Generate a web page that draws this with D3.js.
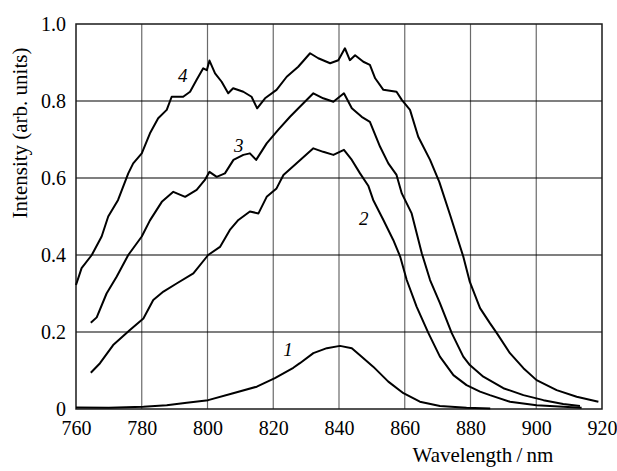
<!DOCTYPE html>
<html>
<head>
<meta charset="utf-8">
<script src="https://cdn.jsdelivr.net/npm/d3@7"></script>
<style>
  body { margin: 0; background: #fff; }
  text { font-family: "Liberation Serif", "Times New Roman", serif; fill: #000; }
</style>
</head>
<body>
<script>
// Emission spectra, curves 1-4
// ---------------------------------------------
var xTicks = [760, 780, 800, 820, 840, 860, 880, 900, 920];
var yTicks = [0, 0.2, 0.4, 0.6, 0.8, 1.0];
var yTickLabels = ['0', '0.2', '0.4', '0.6', '0.8', '1.0'];

var curve1Wl = [760, 770, 780.5, 787.6, 793.7, 800.2, 807.8, 815, 820.5, 826.1, 828.1, 832.2, 836.3,
  840.3, 843.9, 846.9, 850.4, 855, 859.6, 864.6, 870.7, 878.8, 886];
var curve1I = [0.004, 0.003, 0.006, 0.01, 0.016, 0.023, 0.041, 0.058, 0.08, 0.107, 0.119, 0.145, 0.158,
  0.164, 0.158, 0.136, 0.11, 0.071, 0.041, 0.019, 0.008, 0.003, 0.001];

var curve2Wl = [764.5, 767.3, 771.3, 776.4, 780.5, 783.5, 786.6, 790.6, 795.7, 800.2, 803.8, 806.8,
  809.4, 812.9, 815.5, 818, 821, 823.1, 827.1, 832.2, 835.2, 838.3, 841.5, 843.9, 846.4, 848.9,
  850.4, 853.5, 856.5, 858.6, 860.6, 863.6, 867.2, 870.7, 874.8, 878.8, 882.9, 885.9, 892, 900.1,
  908.2, 913.8];
var curve2I = [0.094, 0.119, 0.166, 0.205, 0.235, 0.283, 0.305, 0.326, 0.352, 0.40, 0.421, 0.465,
  0.491, 0.513, 0.508, 0.551, 0.573, 0.608, 0.638, 0.677, 0.668, 0.66, 0.673, 0.647, 0.612, 0.58,
  0.543, 0.491, 0.439, 0.396, 0.335, 0.266, 0.197, 0.136, 0.088, 0.062, 0.045, 0.036, 0.019, 0.010,
  0.006, 0.003];

var curve3Wl = [764.5, 766.3, 769.3, 772.4, 775.9, 780, 782.5, 786.1, 789.6, 793.2, 796.7, 799.2,
  800.6, 802.8, 805.3, 807.9, 810.9, 812.9, 814.8, 818, 821.5, 825.1, 828.1, 832.2, 835.2, 838.3,
  841.5, 843.9, 846.9, 849.4, 852.5, 855, 857.5, 859.1, 862.1, 865.2, 867.7, 870.7, 874.3, 877.8,
  879.8, 883.9, 890, 896.1, 902.2, 908.2, 913.3];
var curve3I = [0.224, 0.238, 0.30, 0.344, 0.40, 0.448, 0.49, 0.538, 0.564, 0.551, 0.569, 0.595,
  0.616, 0.603, 0.612, 0.647, 0.66, 0.664, 0.647, 0.69, 0.725, 0.759, 0.785, 0.82, 0.807, 0.798,
  0.82, 0.781, 0.759, 0.746, 0.681, 0.638, 0.608, 0.56, 0.508, 0.404, 0.335, 0.275, 0.197, 0.136,
  0.114, 0.084, 0.054, 0.036, 0.023, 0.013, 0.008];

var curve4Wl = [760, 761.7, 764.8, 767.8, 769.8, 772.8, 775.9, 777.4, 780, 782.5, 785, 787.6, 789.1,
  792.6, 794.7, 796.7, 798.7, 799.8, 800.6, 802.3, 804.3, 806.3, 807.8, 810.9, 813.4, 815.1, 817.5,
  821, 824.1, 827.6, 831.2, 833.7, 837.3, 839.8, 841.8, 843.3, 844.9, 847.4, 849.4, 851, 853.5,
  857.5, 859.1, 861.6, 864.1, 867.7, 870.5, 873.8, 877.8, 879.8, 882.9, 885.9, 888, 892, 896.1,
  900.1, 906.2, 912.3, 918.9];
var curve4I = [0.322, 0.366, 0.40, 0.448, 0.50, 0.543, 0.612, 0.638, 0.664, 0.716, 0.755, 0.777, 0.811,
  0.811, 0.824, 0.855, 0.885, 0.88, 0.905, 0.872, 0.85, 0.82, 0.833, 0.824, 0.811, 0.781, 0.807,
  0.829, 0.863, 0.889, 0.924, 0.911, 0.898, 0.906, 0.937, 0.906, 0.919, 0.902, 0.894, 0.859, 0.829,
  0.824, 0.803, 0.777, 0.707, 0.647, 0.59, 0.504, 0.396, 0.33, 0.262, 0.223, 0.197, 0.145, 0.106,
  0.075, 0.049, 0.032, 0.019];

var curveNames = ['1', '2', '3', '4'];
// label anchor points (wavelength, intensity)
var labelWl = [824.5, 847.5, 809.5, 792.5];
var labelI = [0.155, 0.495, 0.685, 0.865];

// Width and height
var w = 617;
var h = 471;
var margin = { top: 24, right: 15, bottom: 62, left: 76 };

var svg = d3.select('body').append('svg').attr('width', w).attr('height', h);

var x = d3.scaleLinear().domain([760, 920]).range([margin.left, w - margin.right]);
var y = d3.scaleLinear().domain([0, 1]).range([h - margin.bottom, margin.top]);

// vertical grid (grey)
svg.append('g')
  .selectAll('line').data(xTicks.slice(1, -1)).enter()
  .append('line')
  .attr('x1', function(d) { return x(d); })
  .attr('x2', function(d) { return x(d); })
  .attr('y1', y(0))
  .attr('y2', y(1))
  .attr('stroke', '#6a6a6a')
  .attr('stroke-width', 1.2);

// horizontal grid (black)
svg.append('g')
  .selectAll('line').data(yTicks.slice(1, -1)).enter()
  .append('line')
  .attr('x1', x(760))
  .attr('x2', x(920))
  .attr('y1', function(d) { return y(d); })
  .attr('y2', function(d) { return y(d); })
  .attr('stroke', '#000')
  .attr('stroke-width', 1.2);

// frame
svg.append('rect')
  .attr('x', x(760))
  .attr('y', y(1))
  .attr('width', x(920) - x(760))
  .attr('height', y(0) - y(1))
  .attr('fill', 'none')
  .attr('stroke', '#1a1a1a')
  .attr('stroke-width', 1.5);

// axes: labels only, the frame draws the lines
var xAxis = d3.axisBottom(x).tickValues(xTicks).tickSize(0).tickPadding(12);
var yAxis = d3.axisLeft(y).tickValues(yTicks).tickSize(0).tickPadding(10)
  .tickFormat(function(d, i) { return yTickLabels[i]; });

var gx = svg.append('g').attr('transform', 'translate(0,' + y(0) + ')').call(xAxis);
var gy = svg.append('g').attr('transform', 'translate(' + x(760) + ',0)').call(yAxis);
[gx, gy].forEach(function(g) {
  g.select('.domain').remove();
  g.selectAll('text').attr('font-family', '"Liberation Serif", serif').attr('font-size', '20px').attr('fill', '#000');
});

// curves
var line = d3.line()
  .x(function(d) { return x(d[0]); })
  .y(function(d) { return y(d[1]); });

var curves = [
  d3.zip(curve1Wl, curve1I),
  d3.zip(curve2Wl, curve2I),
  d3.zip(curve3Wl, curve3I),
  d3.zip(curve4Wl, curve4I)
];

svg.append('g')
  .selectAll('path').data(curves).enter()
  .append('path')
  .attr('d', line)
  .attr('fill', 'none')
  .attr('stroke', '#000')
  .attr('stroke-width', 2)
  .attr('stroke-linejoin', 'round');

// curve numbers
svg.append('g')
  .selectAll('text').data(curveNames).enter()
  .append('text')
  .text(function(d) { return d; })
  .attr('x', function(d, i) { return x(labelWl[i]); })
  .attr('y', function(d, i) { return y(labelI[i]); })
  .attr('text-anchor', 'middle')
  .attr('dominant-baseline', 'central')
  .attr('font-style', 'italic')
  .attr('font-size', '19px')
  .attr('fill', '#333');

// axis titles
svg.append('text')
  .attr('transform', 'translate(20,' + 133 + ') rotate(-90)')
  .attr('text-anchor', 'middle')
  .attr('dominant-baseline', 'central')
  .attr('font-size', '21px')
  .text('Intensity (arb. units)');

svg.append('text')
  .attr('x', 483)
  .attr('y', 462)
  .attr('text-anchor', 'middle')
  .attr('font-size', '21px')
  .text('Wavelength\u2009/\u2009nm');
</script>
</body>
</html>
